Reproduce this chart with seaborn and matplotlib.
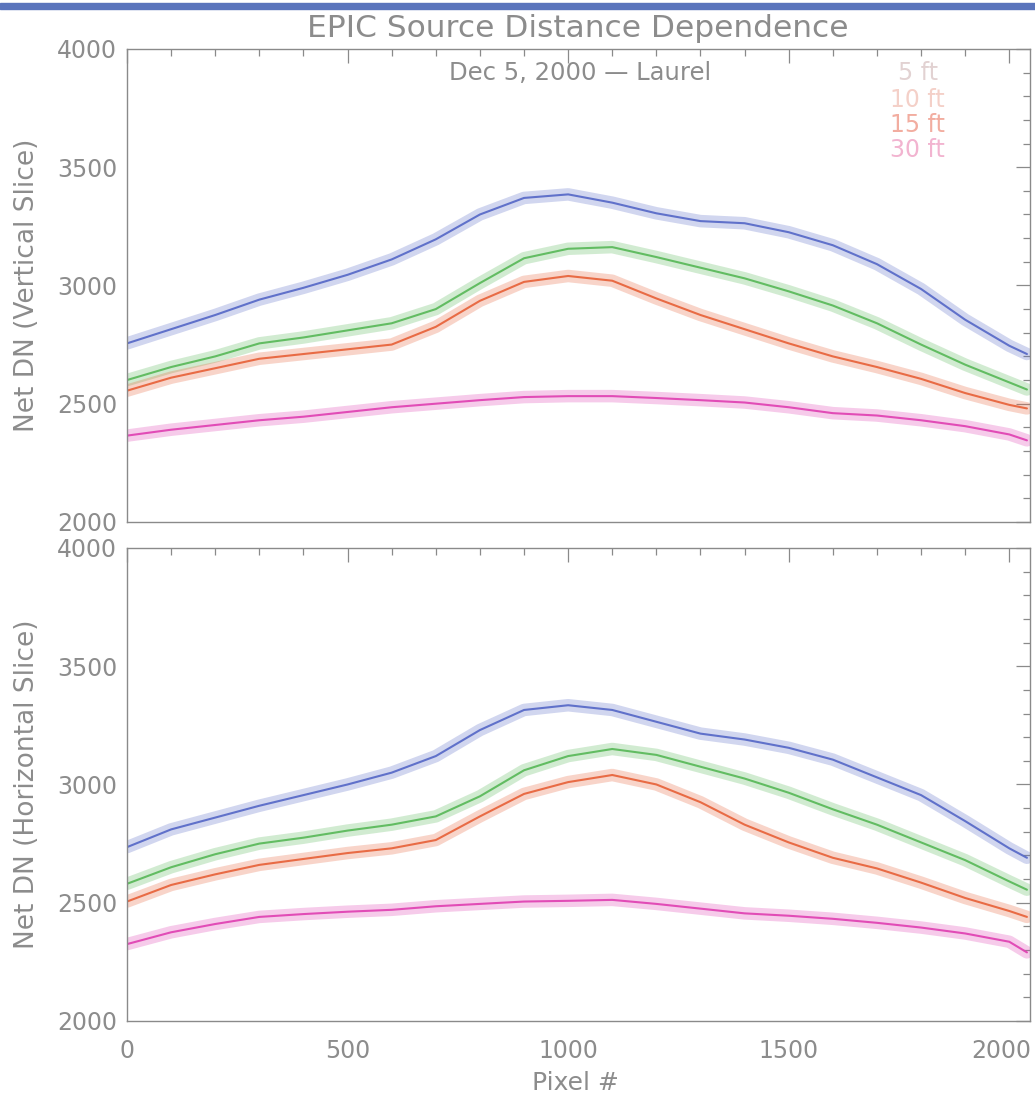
import numpy as np
import pandas as pd
import matplotlib
matplotlib.use("Agg")
import matplotlib.pyplot as plt
from matplotlib.patches import Rectangle
from matplotlib.ticker import MultipleLocator
from matplotlib.transforms import ScaledTranslation
import seaborn as sns

# ---------------- data ----------------
pixel = [0, 100, 200, 300, 400, 500, 600, 700, 800, 900, 1000,
         1100, 1200, 1300, 1400, 1500, 1600, 1700, 1800, 1900, 2000, 2040]

distances = ["5 ft", "10 ft", "15 ft", "30 ft"]

# Vertical slice (top panel)
vert_5ft = [2755, 2815, 2875, 2940, 2990, 3045, 3110, 3195, 3300, 3370, 3385,
            3350, 3305, 3272, 3263, 3225, 3170, 3090, 2985, 2855, 2745, 2710]
vert_10ft = [2600, 2655, 2700, 2755, 2780, 2810, 2840, 2900, 3010, 3115, 3155,
             3162, 3120, 3075, 3030, 2975, 2915, 2840, 2750, 2665, 2590, 2560]
vert_15ft = [2555, 2610, 2650, 2690, 2710, 2730, 2750, 2825, 2935, 3015, 3040,
             3020, 2945, 2875, 2815, 2755, 2700, 2655, 2605, 2545, 2495, 2480]
vert_30ft = [2365, 2390, 2410, 2430, 2445, 2465, 2485, 2500, 2515, 2528, 2532,
             2532, 2524, 2515, 2505, 2485, 2460, 2450, 2430, 2405, 2370, 2345]

# Horizontal slice (bottom panel)
horz_5ft = [2735, 2810, 2860, 2910, 2955, 3000, 3050, 3120, 3230, 3315, 3335,
            3315, 3265, 3215, 3190, 3155, 3105, 3030, 2955, 2845, 2730, 2690]
horz_10ft = [2580, 2650, 2705, 2750, 2775, 2805, 2830, 2865, 2950, 3060, 3120,
             3150, 3125, 3075, 3025, 2965, 2895, 2830, 2755, 2680, 2590, 2555]
horz_15ft = [2505, 2575, 2620, 2660, 2685, 2710, 2730, 2765, 2865, 2960, 3010,
             3040, 3000, 2925, 2830, 2755, 2690, 2645, 2585, 2520, 2465, 2440]
horz_30ft = [2325, 2375, 2410, 2440, 2452, 2462, 2470, 2485, 2495, 2505, 2508,
             2512, 2495, 2475, 2455, 2445, 2432, 2415, 2395, 2370, 2335, 2290]

y_ticks = [2000, 2500, 3000, 3500, 4000]
x_ticks = [0, 500, 1000, 1500, 2000]

title = "EPIC Source Distance Dependence"
subtitle = "Dec 5, 2000 \u2014 Laurel"
ylabel_top = "Net DN (Vertical Slice)"
ylabel_bot = "Net DN (Horizontal Slice)"
xlabel = "Pixel #"

# ---------------- styling ----------------
line_colors = ["#5a6cc8", "#5cba5c", "#e8663e", "#e045b4"]
legend_colors = ["#e2d2d2", "#f4d0c8", "#f2ada0", "#f2b4d0"]
text_color = "#8c8c8c"
axis_color = "#8a8a8a"

sns.set_theme(style="white")
FONT = ["DejaVu Sans"]
plt.rcParams["font.family"] = FONT


def long_frame(series_list):
    frames = []
    for name, vals in zip(distances, series_list):
        frames.append(pd.DataFrame({"pixel": pixel, "dn": vals, "dist": name}))
    return pd.concat(frames, ignore_index=True)


df_top = long_frame([vert_5ft, vert_10ft, vert_15ft, vert_30ft])
df_bot = long_frame([horz_5ft, horz_10ft, horz_15ft, horz_30ft])
palette = dict(zip(distances, line_colors))

fig = plt.figure(figsize=(10.35, 10.97), dpi=100)
ax_top = fig.add_axes([0.1227, 0.5242, 0.8725, 0.4312])
ax_bot = fig.add_axes([0.1227, 0.0693, 0.8725, 0.4312])

for ax, df in ((ax_top, df_top), (ax_bot, df_bot)):
    # soft wide band to suggest the noisy trace
    sns.lineplot(data=df, x="pixel", y="dn", hue="dist", palette=palette,
                 linewidth=9, alpha=0.28, legend=False, ax=ax, estimator=None)
    sns.lineplot(data=df, x="pixel", y="dn", hue="dist", palette=palette,
                 linewidth=1.5, alpha=0.95, legend=False, ax=ax, estimator=None)
    ax.set_xlim(0, 2047)
    ax.set_ylim(2000, 4000)
    ax.set_yticks(y_ticks)
    ax.yaxis.set_minor_locator(MultipleLocator(100))
    ax.xaxis.set_minor_locator(MultipleLocator(100))
    ax.set_xticks(x_ticks)
    ax.tick_params(which="both", direction="in", top=True, right=True,
                   color=axis_color, width=0.9)
    ax.tick_params(which="major", length=10)
    ax.tick_params(which="minor", length=5)
    ax.tick_params(axis="y", labelsize=17, labelcolor=text_color, pad=7)
    ax.tick_params(axis="x", labelsize=17, labelcolor=text_color, pad=13)
    for sp in ax.spines.values():
        sp.set_color(axis_color)
        sp.set_linewidth(1.0)
    ax.set_xlabel("")
    ax.set_ylabel("")

ax_top.tick_params(axis="x", labelbottom=False)

# keep the last x tick label inside the page
fig.canvas.draw()
last_lab = ax_bot.get_xticklabels()[-1]
last_lab.set_transform(last_lab.get_transform()
                       + ScaledTranslation(-8 / 100, 0, fig.dpi_scale_trans))

# texts
fig.text(0.5585, 0.9736, title, ha="center", va="center", fontsize=22.5,
         color=text_color)
fig.text(0.5604, 0.9335, subtitle, ha="center", va="center", fontsize=17.5,
         color=text_color)
legend_y = [0.9335, 0.9088, 0.8861, 0.8633]
for name, col, yy in zip(distances, legend_colors, legend_y):
    xx = 0.868 if name == "5 ft" else 0.860
    fig.text(xx, yy, name, ha="left", va="center", fontsize=17, color=col)

fig.text(0.026, 0.740, ylabel_top, rotation=90, ha="center", va="center",
         fontsize=19, color=text_color)
fig.text(0.026, 0.285, ylabel_bot, rotation=90, ha="center", va="center",
         fontsize=19, color=text_color)
fig.text(0.556, 0.0128, xlabel, ha="center", va="center", fontsize=18,
         color=text_color)

# scanned page header bar
fig.patches.append(Rectangle((0.0, 0.9918), 1.0, 0.0055, transform=fig.transFigure,
                             color="#5a74bc", zorder=5))

fig.savefig("out.png", dpi=100, facecolor="white")
